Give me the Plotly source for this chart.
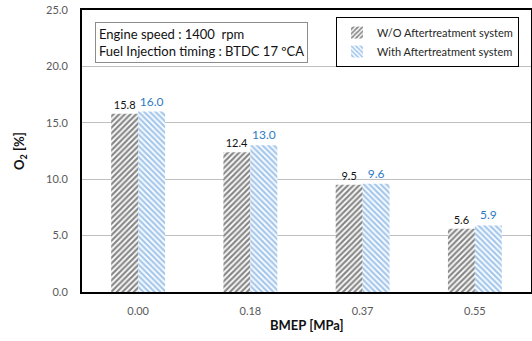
import plotly.graph_objects as go

categories = ["0.00", "0.18", "0.37", "0.55"]
wo_values = [15.8, 12.4, 9.5, 5.6]
with_values = [16.0, 13.0, 9.6, 5.9]
series_names = ["W/O Aftertreatment system", "With Aftertreatment system"]
y_ticks = [0, 5, 10, 15, 20, 25]
y_tick_labels = ["0.0", "5.0", "10.0", "15.0", "20.0", "25.0"]

FONT = "Lato"
BLUE_TXT = "#2E7BC4"

fig = go.Figure()
fig.add_trace(go.Bar(
    x=categories, y=wo_values, name=series_names[0],
    marker=dict(color="white", line=dict(width=0),
                pattern=dict(shape="/", fgcolor="#111111", bgcolor="white", size=4, solidity=0.55)),
    text=[f"{v:.1f}" for v in wo_values], textposition="outside",
    textfont=dict(color="#111111", size=11, family=FONT), cliponaxis=False,
))
fig.add_trace(go.Bar(
    x=categories, y=with_values, name=series_names[1],
    marker=dict(color="white", line=dict(width=0),
                pattern=dict(shape="\\", fgcolor="#4A90D9", bgcolor="white", size=4, solidity=0.55)),
    text=[f"{v:.1f}" for v in with_values], textposition="outside",
    textfont=dict(color=BLUE_TXT, size=12, family=FONT), cliponaxis=False,
))

fig.update_layout(
    width=532, height=341,
    margin=dict(l=82, r=1, t=10, b=49, autoexpand=False),
    paper_bgcolor="white", plot_bgcolor="white",
    barmode="group", bargap=0.52, bargroupgap=0,
    font=dict(family=FONT, size=11, color="#595959"),
    showlegend=True,
    legend=dict(x=(519 - 82) / 449, y=0.975, xanchor="right", yanchor="top",
                bordercolor="#000000", borderwidth=1, bgcolor="white",
                font=dict(family=FONT, size=11, color="#262626"),
                itemwidth=30, tracegroupgap=2),
    annotations=[
        dict(x=0.029, y=0.957, xref="paper", yref="paper", xanchor="left", yanchor="top",
             text="Engine speed : 1400  rpm<br>Fuel Injection timing : BTDC 17 ºCA",
             align="left", showarrow=False,
             font=dict(family=FONT, size=13, color="#111111"),
             bordercolor="#8c8c8c", borderwidth=1, borderpad=3, bgcolor="white"),
        dict(x=-62/449, y=0.5, xref="paper", yref="paper", xanchor="center", yanchor="middle",
             text="<b>O<sub>2</sub> [%]</b>", textangle=-90, showarrow=False,
             font=dict(family=FONT, size=13, color="#111111")),
        dict(x=0.5, y=-33/282, xref="paper", yref="paper", xanchor="center", yanchor="middle",
             text="<b>BMEP [MPa]</b>", showarrow=False,
             font=dict(family=FONT, size=13, color="#111111")),
    ],
)
fig.update_yaxes(
    range=[0, 25], tickvals=y_ticks, ticktext=y_tick_labels,
    showgrid=True, gridcolor="#BFBFBF", gridwidth=1,
    showline=True, linecolor="black", linewidth=2, mirror=True,
    ticks="", ticklabelstandoff=10, zeroline=False, automargin=False,
)
fig.update_xaxes(
    showline=True, linecolor="black", linewidth=2, mirror=True,
    ticks="", ticklabelstandoff=8, automargin=False,
)

fig.write_html("out.html", config={"displayModeBar": False},
               post_script="document.body.style.margin='0';")
